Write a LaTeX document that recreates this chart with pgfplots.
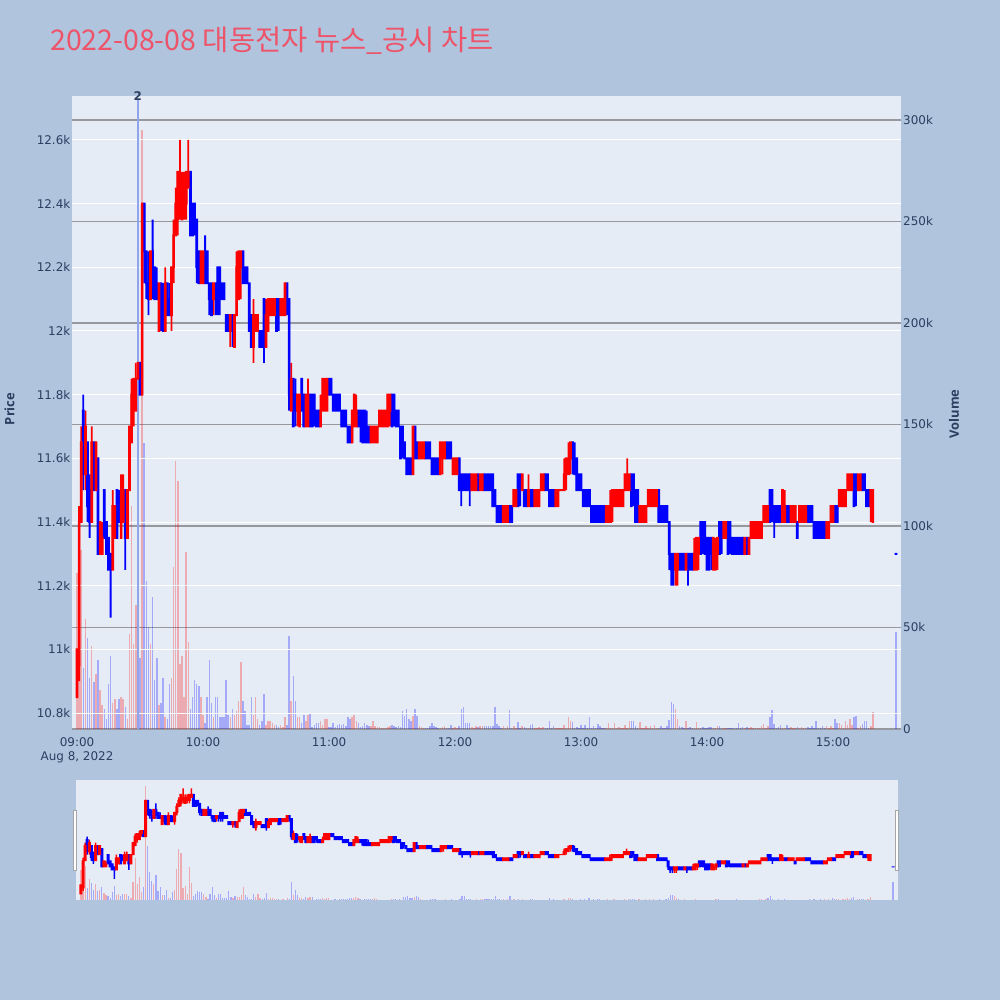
\documentclass[border=0pt]{standalone}
\usepackage{fontspec}
\usepackage{pgfplots}
\usepackage{pgfplotstable}
\pgfplotsset{compat=1.18}
\newfontfamily\tickfont{DejaVu Sans}
\newfontfamily\otf{Open Sans}
\newfontfamily\cjk{Noto Sans CJK KR}
\definecolor{bgcol}{RGB}{176,196,222}
\definecolor{plotbg}{RGB}{229,236,246}
\definecolor{cred}{RGB}{255,0,0}
\definecolor{cblue}{RGB}{0,0,255}
\definecolor{titlecol}{RGB}{237,84,106}
\definecolor{gridgrey}{RGB}{150,152,158}
\definecolor{tickcol}{RGB}{42,63,95}
\definecolor{annot}{RGB}{145,165,235}

\pgfplotstableread{
t o h l c d v
0 10850 11000 10850 11000 1 77
1 10950 11450 10900 11400 1 91
2 11400 11700 11400 11650 1 88
3 11750 11800 11500 11550 0 30
4 11550 11750 11500 11700 1 54
5 11650 11650 11400 11450 0 45
6 11500 11550 11350 11400 0 25
7 11400 11700 11400 11650 1 41
8 11650 11650 11500 11500 0 23
9 11500 11650 11500 11650 1 27
10 11600 11600 11300 11300 0 34
11 11300 11400 11300 11400 1 19
12 11300 11400 11300 11350 1 12
13 11500 11500 11350 11350 0 10
14 11400 11400 11300 11300 0 5
15 11350 11350 11250 11250 0 22
16 11300 11300 11100 11250 0 36
17 11250 11500 11250 11450 1 13
18 11350 11450 11350 11450 1 15
19 11500 11500 11350 11350 0 10
20 11450 11500 11400 11400 0 15
21 11350 11550 11350 11500 1 16
22 11400 11550 11400 11500 1 15
23 11500 11500 11250 11350 0 11
24 11350 11500 11350 11500 1 5
25 11500 11700 11500 11700 1 47
26 11650 11850 11650 11800 1 110
27 11750 11850 11700 11850 1 42
28 11750 11900 11750 11850 1 61
29 11850 11900 11800 11900 1 20
30 11900 11900 11800 11800 0 35
31 11800 12400 11800 12400 1 295
32 12400 12400 12150 12250 0 141
33 12250 12250 12100 12150 0 73
34 12150 12250 12050 12100 0 50
35 12100 12250 12100 12250 1 42
36 12250 12350 12100 12150 0 65
37 12200 12200 12100 12100 0 24
38 12150 12200 12100 12100 0 35
39 12000 12150 12000 12150 1 12
40 12150 12150 12000 12050 0 13
41 12100 12150 12000 12000 0 25
42 12000 12200 12000 12150 1 6
43 12150 12150 12050 12050 0 5
44 12100 12150 12050 12050 0 22
45 12050 12200 12000 12200 1 25
46 12200 12350 12150 12300 1 80
47 12300 12450 12300 12400 1 132
48 12350 12500 12300 12500 1 122
49 12400 12600 12350 12450 1 32
50 12350 12500 12350 12450 1 36
51 12400 12500 12350 12450 1 16
52 12400 12500 12350 12500 1 87
53 12450 12600 12450 12500 1 43
54 12500 12500 12300 12300 0 10
55 12400 12400 12300 12300 0 16
56 12400 12400 12300 12350 0 24
57 12350 12350 12150 12200 0 22
58 12250 12250 12150 12150 0 21
59 12150 12250 12150 12250 1 16
60 12150 12250 12150 12250 1 7
61 12250 12300 12150 12150 0 3
62 12250 12250 12150 12150 0 16
63 12150 12150 12050 12100 0 34
64 12150 12150 12050 12050 0 13
65 12100 12150 12050 12150 1 6
66 12150 12150 12050 12100 0 16
67 12200 12200 12050 12100 0 16
68 12200 12200 12050 12100 0 6
69 12150 12150 12100 12100 0 6
70 12150 12150 12100 12100 0 6
71 12050 12050 12000 12000 0 24
72 12050 12050 12000 12000 0 7
73 12000 12050 11950 12050 1 6
74 12050 12050 11950 12000 0 10
75 11950 12050 11950 12050 1 7
76 12050 12250 12050 12200 1 9
77 12100 12250 12100 12250 1 14
78 12200 12250 12100 12250 1 33
79 12250 12250 12150 12150 0 14
80 12200 12200 12150 12150 0 9
81 12200 12200 12150 12150 0 2
82 12150 12150 12000 12000 0 2
83 12050 12050 11950 11950 0 16
84 11950 12100 11900 12050 1 7
85 12000 12050 12000 12050 1 16
86 12000 12050 12000 12050 1 5
87 12000 12000 11950 11950 0 2
88 12000 12000 11950 11950 0 4
89 12100 12100 11900 11950 0 17
90 11950 12100 11950 12050 1 2
91 12000 12100 12000 12100 1 4
92 12050 12100 12050 12100 1 4
93 12050 12100 12050 12100 1 3
94 12050 12100 12050 12100 1 2
95 12100 12100 12000 12000 0 2
96 12100 12100 12000 12050 0 1
97 12050 12100 12050 12100 1 2
98 12050 12100 12050 12100 1 1
99 12050 12150 12050 12150 1 6
100 12150 12150 12050 12100 0 2
101 12100 12100 11750 11800 0 46
102 11750 11900 11750 11850 1 14
103 11850 11850 11700 11700 0 26
104 11800 11850 11700 11750 0 14
105 11750 11800 11700 11800 1 6
106 11700 11800 11700 11800 1 6
107 11850 11850 11750 11750 0 3
108 11800 11800 11700 11700 0 7
109 11700 11800 11700 11800 1 4
110 11700 11850 11700 11800 1 7
111 11800 11800 11700 11700 0 8
112 11800 11800 11700 11700 0 1
113 11800 11800 11700 11750 0 2
114 11750 11750 11700 11700 0 3
115 11750 11750 11700 11700 0 3
116 11700 11800 11700 11750 1 4
117 11750 11850 11750 11850 1 2
118 11750 11850 11750 11850 1 5
119 11750 11850 11750 11850 1 5
120 11850 11850 11800 11800 0 1
121 11850 11850 11800 11800 0 1
122 11800 11800 11750 11750 0 3
123 11800 11800 11750 11750 0 1
124 11800 11800 11750 11750 0 2
125 11800 11800 11750 11750 0 2.5
126 11750 11750 11700 11700 0 2
127 11750 11750 11700 11700 0 2.5
128 11750 11750 11700 11700 0 1.6
129 11700 11700 11650 11650 0 6
130 11700 11700 11650 11650 0 5
131 11650 11750 11650 11750 1 6
132 11700 11800 11700 11800 1 7
133 11700 11800 11700 11750 1 4
134 11750 11750 11700 11700 0 3
135 11750 11750 11650 11700 0 1
136 11750 11750 11650 11650 0 1.5
137 11750 11750 11650 11650 0 3
138 11700 11750 11650 11650 0 2
139 11700 11700 11650 11650 0 1.5
140 11650 11700 11650 11700 1 1.5
141 11650 11700 11650 11700 1 4
142 11650 11700 11650 11700 1 1.6
143 11650 11700 11650 11700 1 1
144 11700 11750 11700 11750 1 1
145 11700 11750 11700 11750 1 0.5
146 11700 11750 11700 11750 1 0.5
147 11700 11750 11700 11750 1 0.5
148 11700 11800 11700 11800 1 1
149 11750 11800 11700 11800 1 1.6
150 11800 11800 11700 11700 0 2
151 11800 11800 11700 11750 0 1.6
152 11750 11750 11700 11700 0 0.8
153 11750 11750 11700 11700 0 1.6
154 11700 11700 11600 11600 0 0.8
155 11700 11700 11600 11650 0 9
156 11650 11650 11600 11600 0 6.5
157 11600 11600 11550 11550 0 10
158 11600 11600 11550 11550 0 5
159 11600 11600 11550 11550 0 4
160 11550 11700 11550 11700 1 6.5
161 11700 11700 11600 11600 0 10
162 11650 11650 11600 11600 0 6.5
163 11600 11650 11600 11650 1 1.6
164 11600 11650 11600 11650 1 0.8
165 11600 11650 11600 11650 1 0.5
166 11650 11650 11600 11600 0 0.5
167 11650 11650 11600 11600 0 0.5
168 11650 11650 11600 11600 0 1.6
169 11600 11600 11550 11550 0 3
170 11600 11600 11550 11550 0 1.6
171 11600 11600 11550 11550 0 0.8
172 11600 11600 11550 11550 0 0.5
173 11550 11650 11550 11650 1 0.5
174 11600 11650 11550 11650 1 1
175 11600 11650 11600 11650 1 1.6
176 11650 11650 11600 11600 0 0.5
177 11650 11650 11600 11600 0 0.5
178 11650 11650 11600 11600 0 2
179 11550 11600 11550 11600 1 0.5
180 11550 11600 11550 11600 1 0.8
181 11550 11600 11550 11600 1 0.5
182 11600 11600 11500 11500 0 1.6
183 11550 11550 11450 11500 0 10
184 11550 11550 11500 11500 0 11
185 11550 11550 11500 11500 0 3
186 11550 11550 11500 11500 0 3
187 11550 11550 11450 11500 0 3
188 11500 11550 11500 11550 1 0.8
189 11500 11550 11500 11550 1 0.5
190 11500 11550 11500 11550 1 1.6
191 11550 11550 11500 11500 0 1
192 11500 11550 11500 11550 1 1.6
193 11500 11550 11500 11550 1 1.6
194 11550 11550 11500 11500 0 1.6
195 11550 11550 11500 11500 0 1.6
196 11550 11550 11500 11500 0 1.6
197 11550 11550 11500 11500 0 1.6
198 11550 11550 11450 11450 0 1.6
199 11500 11500 11450 11450 0 10.7
200 11450 11450 11400 11400 0 2.5
201 11450 11450 11400 11400 0 1.6
202 11450 11450 11400 11400 0 0.5
203 11400 11450 11400 11450 1 1.6
204 11400 11450 11400 11450 1 0.5
205 11400 11450 11400 11450 1 1.6
206 11450 11450 11400 11400 0 9.3
207 11450 11450 11400 11400 0 0.5
208 11450 11500 11450 11500 1 1.6
209 11450 11500 11450 11500 1 0.5
210 11550 11550 11450 11450 0 3.3
211 11550 11550 11450 11500 0 0.5
212 11500 11550 11500 11550 1 1.6
213 11500 11500 11450 11450 0 1
214 11500 11500 11450 11450 0 0.5
215 11450 11550 11450 11500 1 0.5
216 11500 11500 11450 11450 0 2
217 11500 11500 11450 11450 0 2.5
218 11450 11500 11450 11500 1 0.5
219 11450 11500 11450 11500 1 0.5
220 11450 11500 11450 11500 1 1
221 11500 11550 11500 11550 1 0.5
222 11500 11550 11500 11550 1 1
223 11550 11550 11500 11500 0 0.5
224 11550 11550 11500 11500 0 0.5
225 11500 11500 11450 11450 0 4
226 11500 11500 11450 11450 0 0.5
227 11500 11500 11450 11450 0 1.6
228 11450 11500 11450 11500 1 0.5
229 11450 11500 11450 11500 1 0.5
230 11500 11500 11500 11500 1 0.5
231 11500 11500 11500 11500 1 0.5
232 11500 11600 11500 11550 1 2
233 11550 11600 11500 11600 1 0.5
234 11550 11650 11550 11600 1 5.7
235 11600 11650 11550 11650 1 4
236 11650 11650 11550 11600 0 3.3
237 11600 11650 11550 11550 0 0.5
238 11600 11600 11500 11500 0 1
239 11550 11550 11500 11500 0 0.5
240 11550 11550 11500 11500 0 2
241 11500 11500 11450 11450 0 0.5
242 11500 11500 11450 11450 0 2
243 11500 11500 11450 11450 0 0.5
244 11500 11500 11450 11450 0 5.7
245 11450 11450 11400 11400 0 0.5
246 11450 11450 11400 11400 0 1.6
247 11450 11450 11400 11400 0 0.5
248 11450 11450 11400 11400 0 2.5
249 11450 11450 11400 11400 0 1.6
250 11450 11450 11400 11400 0 0.5
251 11450 11450 11400 11400 0 0.5
252 11400 11450 11400 11450 1 0.5
253 11400 11450 11400 11450 1 2.8
254 11400 11500 11400 11450 1 0.5
255 11450 11500 11400 11500 1 0.5
256 11450 11500 11450 11500 1 2.8
257 11450 11500 11450 11500 1 0.5
258 11450 11500 11450 11500 1 1
259 11450 11500 11450 11500 1 0.5
260 11450 11500 11450 11500 1 0.5
261 11500 11550 11500 11550 1 2
262 11500 11600 11500 11550 1 0.5
263 11500 11550 11500 11550 1 3.8
264 11550 11550 11450 11450 0 3.8
265 11550 11550 11450 11500 0 3.8
266 11500 11500 11400 11400 0 1.6
267 11500 11500 11400 11400 0 0.5
268 11400 11450 11400 11450 1 3.3
269 11400 11450 11400 11450 1 0.5
270 11400 11450 11400 11450 1 0.5
271 11400 11450 11400 11450 1 1.6
272 11450 11500 11450 11500 1 0.5
273 11450 11500 11450 11500 1 1.6
274 11450 11500 11450 11500 1 0.5
275 11450 11500 11450 11500 1 2
276 11450 11500 11450 11500 1 0.5
277 11500 11500 11400 11400 0 0.5
278 11450 11450 11400 11400 0 1.6
279 11450 11450 11400 11400 0 0.5
280 11450 11450 11400 11400 0 0.5
281 11450 11450 11400 11400 0 1.6
282 11400 11400 11250 11300 0 4.4
283 11300 11300 11200 11250 0 13.4
284 11300 11300 11200 11250 0 12.3
285 11250 11300 11200 11300 1 9.8
286 11250 11300 11200 11300 1 5
287 11300 11300 11250 11250 0 1.6
288 11300 11300 11250 11250 0 1
289 11300 11300 11250 11250 0 0.5
290 11250 11300 11250 11300 1 3.8
291 11300 11300 11200 11250 0 0.5
292 11300 11300 11250 11250 0 1
293 11300 11300 11250 11250 0 0.5
294 11250 11350 11250 11300 1 0.5
295 11250 11350 11250 11350 1 3.3
296 11300 11350 11250 11350 1 0.5
297 11400 11400 11300 11300 0 0.5
298 11400 11400 11300 11350 0 1
299 11400 11400 11300 11300 0 0.5
300 11350 11350 11250 11250 0 0.5
301 11350 11350 11250 11250 0 1.2
302 11350 11350 11250 11300 0 1
303 11250 11350 11250 11350 1 0.5
304 11250 11350 11250 11300 1 0.5
305 11300 11350 11250 11350 1 1.6
306 11400 11400 11300 11300 0 1.6
307 11400 11400 11300 11350 0 0.5
308 11350 11400 11350 11400 1 0.5
309 11350 11400 11350 11400 1 0.5
310 11400 11400 11300 11300 0 0.5
311 11400 11400 11300 11350 0 0.5
312 11350 11350 11300 11300 0 0.5
313 11350 11350 11300 11300 0 0.5
314 11350 11350 11300 11300 0 0.5
315 11350 11350 11300 11300 0 2.8
316 11350 11350 11300 11300 0 0.5
317 11350 11350 11300 11300 0 1
318 11300 11350 11300 11350 1 0.5
319 11350 11350 11300 11300 0 1
320 11300 11350 11300 11350 1 0.5
321 11350 11400 11350 11400 1 1
322 11350 11400 11350 11400 1 0.5
323 11350 11400 11350 11400 1 0.5
324 11350 11400 11350 11400 1 0.5
325 11350 11400 11350 11400 1 0.5
326 11350 11400 11350 11400 1 1.6
327 11400 11450 11400 11450 1 2.5
328 11400 11450 11400 11450 1 0.5
329 11400 11450 11400 11450 1 1.6
330 11500 11500 11400 11400 0 5.7
331 11500 11500 11400 11450 0 9.5
332 11450 11450 11350 11400 0 2.5
333 11450 11450 11400 11400 0 0.5
334 11450 11450 11400 11400 0 1
335 11450 11450 11400 11400 0 2
336 11400 11500 11400 11500 1 0.5
337 11400 11500 11400 11450 1 0.5
338 11450 11450 11400 11400 0 2
339 11450 11450 11400 11400 0 0.5
340 11400 11450 11400 11450 1 1
341 11400 11450 11400 11450 1 0.5
342 11400 11450 11400 11450 1 0.5
343 11400 11400 11350 11350 0 1
344 11400 11450 11400 11450 1 0.5
345 11400 11450 11400 11450 1 1
346 11400 11450 11400 11450 1 0.5
347 11400 11450 11400 11450 1 0.5
348 11450 11450 11400 11400 0 1
349 11450 11450 11400 11400 0 0.5
350 11450 11450 11400 11400 0 1.6
351 11400 11400 11350 11350 0 0.5
352 11400 11400 11350 11350 0 3.8
353 11400 11400 11350 11350 0 0.5
354 11400 11400 11350 11350 0 0.5
355 11400 11400 11350 11350 0 1.6
356 11400 11400 11350 11350 0 0.5
357 11350 11400 11350 11400 1 1.6
358 11350 11400 11350 11400 1 0.5
359 11400 11450 11400 11450 1 1.6
360 11400 11450 11400 11450 1 0.5
361 11450 11450 11400 11400 0 4.8
362 11450 11450 11400 11400 0 2.8
363 11450 11500 11450 11500 1 2.8
364 11450 11500 11450 11500 1 2
365 11450 11500 11450 11500 1 0.5
366 11450 11500 11450 11500 1 3.8
367 11500 11550 11500 11550 1 2
368 11500 11550 11500 11550 1 4.8
369 11500 11550 11500 11550 1 2
370 11550 11550 11450 11450 0 5.7
371 11550 11550 11450 11500 0 6.6
372 11500 11550 11500 11550 1 0.5
373 11500 11550 11500 11550 1 1.6
374 11550 11550 11500 11500 0 2.5
375 11550 11550 11500 11500 0 3.8
376 11500 11500 11450 11450 0 3.8
377 11500 11500 11450 11450 0 0.5
378 11450 11500 11400 11500 1 1.6
379 11400 11500 11400 11500 1 8.2
390 11300 11300 11300 11300 0 48
}\candles

\pgfplotsset{
  panel/.style={anchor=south west, scale only axis, xmin=-2.4, xmax=392.4},
  mainpanel/.style={panel, at={(72bp,271bp)}, width=829bp, height=633bp},
  slidepanel/.style={panel, at={(76bp,100bp)}, width=822bp, height=120bp, hide axis},
}

\begin{document}
\begin{tikzpicture}[x=1bp,y=1bp]
\useasboundingbox (0,0) rectangle (1000,1000);
\fill[bgcol] (0,0) rectangle (1000,1000);
\fill[plotbg] (72,271) rectangle (901,904);
\fill[plotbg] (76,100) rectangle (898,220);

% title
\node[anchor=base west, inner sep=0pt, text=titlecol, font=\cjk\fontsize{28.6}{32}\selectfont] at (50,949) {2022-08-08 대동전자 뉴스\_공시 차트};

% ---------- main: volume axis ----------
\begin{axis}[mainpanel,
  ymin=0, ymax=311.8,
  hide x axis, axis y line*=right, axis line style={draw=none},
  major tick length=0pt, scaled ticks=false,
  ytick={0,50,100,150,200,250,300},
  yticklabels={0,50k,100k,150k,200k,250k,300k},
  ymajorgrids, major grid style={gridgrey, line width=1.3bp},
  yticklabel style={anchor=west, inner sep=0pt, xshift=2bp, font=\tickfont\fontsize{12}{14}\selectfont, text=tickcol},
]
\addplot[ycomb, mark=none, draw=cred, draw opacity=0.28, line width=1.5bp,
  restrict expr to domain={\thisrow{d}}{0.5:1.5}] table[x=t, y=v] {\candles};
\addplot[ycomb, mark=none, draw=cblue, draw opacity=0.28, line width=1.5bp,
  restrict expr to domain={\thisrow{d}}{-0.5:0.5}] table[x=t, y=v] {\candles};
\end{axis}

% ---------- main: price axis with wicks ----------
\begin{axis}[mainpanel,
  ymin=10750, ymax=12738,
  axis x line*=bottom, axis y line*=left, axis line style={draw=none},
  major tick length=0pt, scaled ticks=false,
  xtick={0,60,120,180,240,300,360},
  xticklabels={09:00,10:00,11:00,12:00,13:00,14:00,15:00},
  ytick={10800,11000,11200,11400,11600,11800,12000,12200,12400,12600},
  yticklabels={10.8k,11k,11.2k,11.4k,11.6k,11.8k,12k,12.2k,12.4k,12.6k},
  ymajorgrids, major grid style={white, line width=1bp},
  tick label style={font=\tickfont\fontsize{12}{14}\selectfont, text=tickcol},
  yticklabel style={anchor=east, inner sep=0pt, xshift=-1.5bp},
  xticklabel style={anchor=north, inner sep=0pt, yshift=-8bp},
  ybar stacked, bar width=1.8bp,
]
\draw[annot, line width=2bp] (axis cs:28.9,12725) -- (axis cs:28.9,10750);
\addplot[draw=none, fill=none] table[x=t, y=l] {\candles};
\addplot[draw=none, fill=cred] table[x=t, y expr={\thisrow{d}*(\thisrow{h}-\thisrow{l})}] {\candles};
\addplot[draw=none, fill=cblue] table[x=t, y expr={(1-\thisrow{d})*(\thisrow{h}-\thisrow{l})}] {\candles};
\end{axis}

% ---------- main: bodies ----------
\begin{axis}[mainpanel, ymin=10750, ymax=12738, hide axis, ybar stacked, bar width=2.7bp]
\addplot[draw=none, fill=none] table[x=t, y expr={min(\thisrow{o},\thisrow{c})-3}] {\candles};
\addplot[draw=none, fill=cred] table[x=t, y expr={\thisrow{d}*(abs(\thisrow{c}-\thisrow{o})+6)}] {\candles};
\addplot[draw=none, fill=cblue] table[x=t, y expr={(1-\thisrow{d})*(abs(\thisrow{c}-\thisrow{o})+6)}] {\candles};
\end{axis}

% ---------- range slider ----------
\begin{axis}[slidepanel, ymin=0, ymax=311.8]
\addplot[ycomb, mark=none, draw=cred, draw opacity=0.28, line width=1.2bp,
  restrict expr to domain={\thisrow{d}}{0.5:1.5}] table[x=t, y=v] {\candles};
\addplot[ycomb, mark=none, draw=cblue, draw opacity=0.28, line width=1.2bp,
  restrict expr to domain={\thisrow{d}}{-0.5:0.5}] table[x=t, y=v] {\candles};
\end{axis}
\begin{axis}[slidepanel, ymin=10750, ymax=12738, ybar stacked, bar width=1.5bp]
\addplot[draw=none, fill=none] table[x=t, y=l] {\candles};
\addplot[draw=none, fill=cred] table[x=t, y expr={\thisrow{d}*(\thisrow{h}-\thisrow{l})}] {\candles};
\addplot[draw=none, fill=cblue] table[x=t, y expr={(1-\thisrow{d})*(\thisrow{h}-\thisrow{l})}] {\candles};
\end{axis}
\begin{axis}[slidepanel, ymin=10750, ymax=12738, ybar stacked, bar width=3bp]
\addplot[draw=none, fill=none] table[x=t, y expr={min(\thisrow{o},\thisrow{c})-8}] {\candles};
\addplot[draw=none, fill=cred] table[x=t, y expr={\thisrow{d}*(abs(\thisrow{c}-\thisrow{o})+16)}] {\candles};
\addplot[draw=none, fill=cblue] table[x=t, y expr={(1-\thisrow{d})*(abs(\thisrow{c}-\thisrow{o})+16)}] {\candles};
\end{axis}

% slider handles
\draw[gray!70, fill=white, line width=0.8bp] (73.5,130) rectangle (76.5,190);
\draw[gray!70, fill=white, line width=0.8bp] (895.5,130) rectangle (898.5,190);

% labels
\node[rotate=90, text=tickcol, font=\otf\bfseries\fontsize{13}{15}\selectfont] at (9.5,591) {Price};
\node[rotate=90, text=tickcol, font=\otf\bfseries\fontsize{13}{15}\selectfont] at (954,586) {Volume};
\node[text=tickcol, font=\tickfont\fontsize{12}{14}\selectfont, anchor=north, inner sep=0pt] at (77,249) {Aug 8, 2022};
\node[text=tickcol, font=\tickfont\bfseries\fontsize{12}{14}\selectfont, inner sep=0pt] at (137.7,903.5) {2};
\end{tikzpicture}
\end{document}
